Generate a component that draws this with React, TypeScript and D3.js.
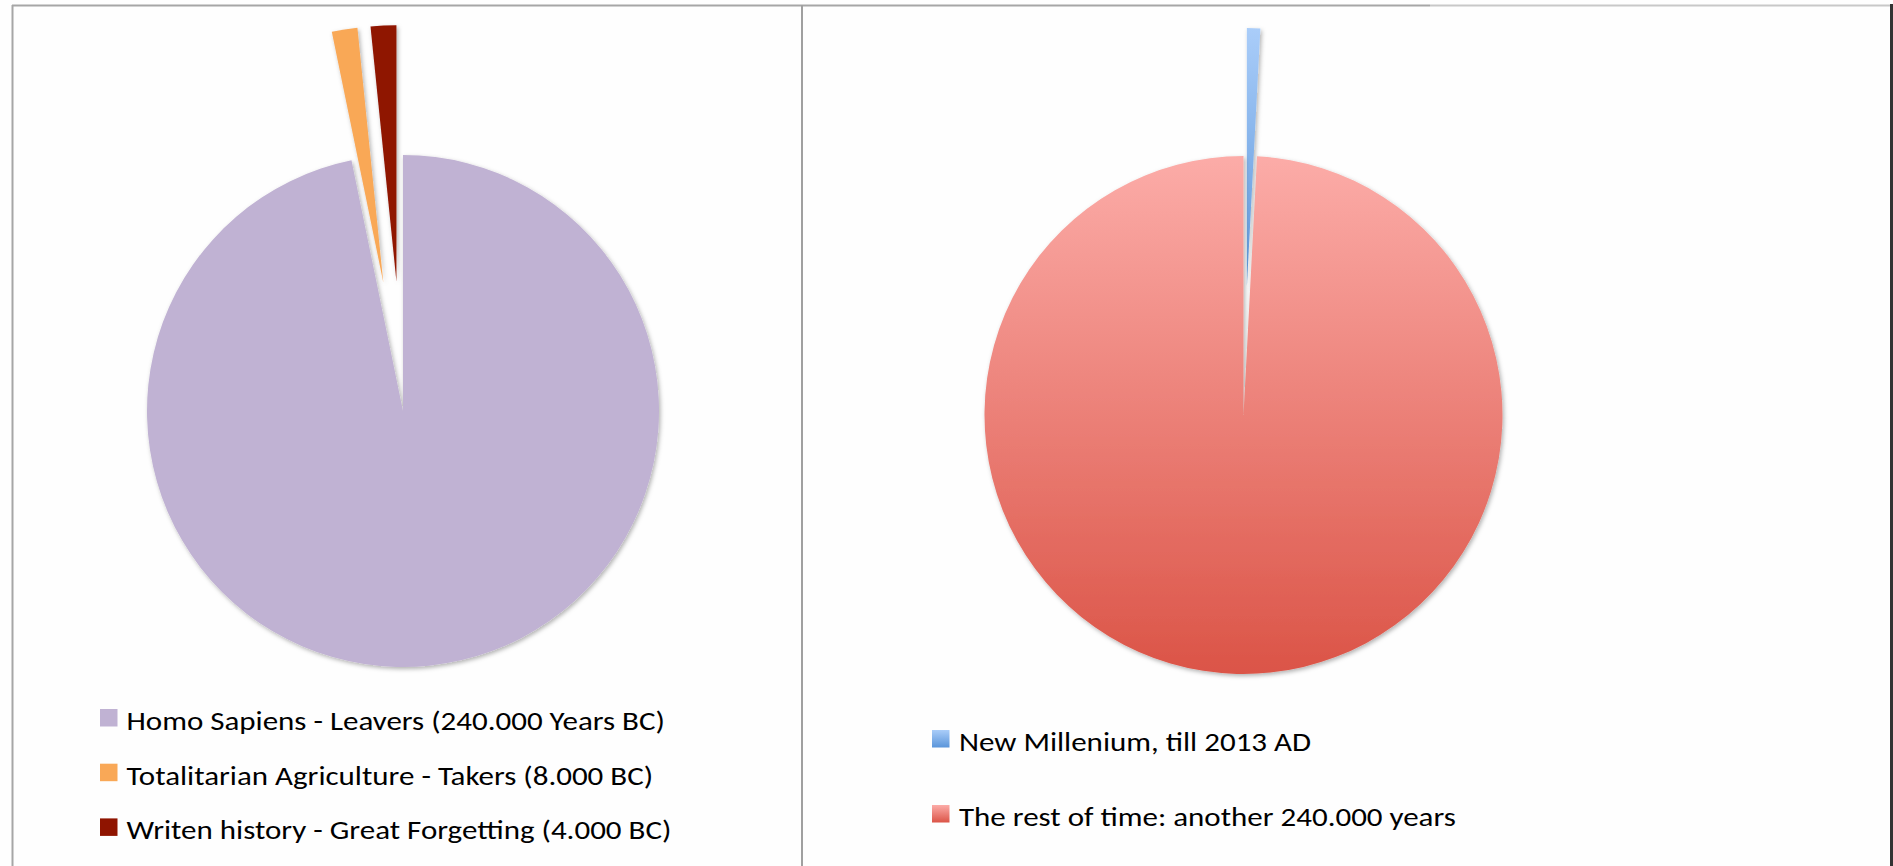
import React from 'react';
import * as d3 from 'd3';

// ---- data ----
const leftLabels = [
  'Homo Sapiens - Leavers (240.000 Years BC)',
  'Totalitarian Agriculture - Takers (8.000 BC)',
  'Writen history - Great Forgetting (4.000 BC)',
];
const leftValues = [240000, 4000, 4000];
const leftColors = ['#C0B2D3', '#F9A857', '#8F1400'];
const leftExploded = [false, true, true];

const rightLabels = ['New Millenium, till 2013 AD', 'The rest of time: another 240.000 years'];
const rightValues = [2013, 240000];
const rightGradients = [
  ['#AACDF9', '#5A95DA'],
  ['#FCACA8', '#DB5447'],
];
const rightExploded = [true, false];

const W = 1893;
const H = 866;
const FONT = 'Calibri, Carlito, Lato, sans-serif';
const FONT_SIZE = 27;
const STRETCH = 1.148;

type PieProps = {
  cx: number;
  cy: number;
  r: number;
  values: number[];
  fills: string[];
  exploded: boolean[];
  explode: number;
};

function Pie({ cx, cy, r, values, fills, exploded, explode }: PieProps) {
  const arcs = d3.pie<number>().sort(null).startAngle(0).endAngle(2 * Math.PI)(values);
  const arcGen = d3.arc<d3.PieArcDatum<number>>().innerRadius(0).outerRadius(r);
  return (
    <g transform={`translate(${cx},${cy})`}>
      {arcs.map((a, i) => {
        const mid = (a.startAngle + a.endAngle) / 2;
        const d = exploded[i] ? explode : 0;
        const dx = Math.sin(mid) * d;
        const dy = -Math.cos(mid) * d;
        return (
          <path
            key={i}
            d={arcGen(a) || ''}
            transform={`translate(${dx},${dy})`}
            fill={fills[i]}
            filter="url(#shadow)"
          />
        );
      })}
    </g>
  );
}

function LegendText({ x, y, label }: { x: number; y: number; label: string }) {
  return (
    <text
      transform={`translate(${x},${y}) scale(${STRETCH},1)`}
      fontSize={FONT_SIZE}
      fill="#000"
    >
      {label}
    </text>
  );
}

export default function App() {
  const lcx = 403, lcy = 411, lr = 256;
  const rcx = 1243.5, rcy = 415, rr = 259;
  return (
    <svg
      width={W}
      height={H}
      style={{ position: 'absolute', left: 0, top: 0, background: '#FEFEFE' }}
      fontFamily={FONT}
    >
      <defs>
        <filter id="shadow" x="-50%" y="-50%" width="200%" height="200%">
          <feDropShadow dx="1.5" dy="2" stdDeviation="2" floodColor="#000" floodOpacity="0.3" />
        </filter>
        {rightGradients.map((g, i) => (
          <linearGradient key={i} id={`rg${i}`} x1="0" y1="0" x2="0" y2="1">
            <stop offset="0" stopColor={g[0]} />
            <stop offset="1" stopColor={g[1]} />
          </linearGradient>
        ))}
      </defs>

      {/* frames */}
      <line x1={12} y1={5.5} x2={1430} y2={5.5} stroke="#A6A6A6" strokeWidth={2} />
      <line x1={1430} y1={5.5} x2={1891} y2={5.5} stroke="#C8C8C8" strokeWidth={2} />
      <line x1={12.5} y1={5} x2={12.5} y2={H} stroke="#A6A6A6" strokeWidth={2} />
      <line x1={802} y1={5} x2={802} y2={H} stroke="#A0A0A0" strokeWidth={2} />
      <line x1={1891.5} y1={4} x2={1891.5} y2={H} stroke="#333" strokeWidth={3} />

      <Pie
        cx={lcx}
        cy={lcy}
        r={lr}
        values={leftValues}
        fills={leftColors}
        exploded={leftExploded}
        explode={130}
      />
      <Pie
        cx={rcx}
        cy={rcy}
        r={rr}
        values={rightValues}
        fills={rightValues.map((_, i) => `url(#rg${i})`)}
        exploded={rightExploded}
        explode={128}
      />

      {/* left legend */}
      {leftLabels.map((lab, i) => (
        <g key={i} transform={`translate(100,${709 + i * 54.7})`}>
          <rect x={0} y={0} width={17.5} height={17.5} fill={leftColors[i]} />
          <LegendText x={26.5} y={21} label={lab} />
        </g>
      ))}

      {/* right legend */}
      {rightLabels.map((lab, i) => (
        <g key={i} transform={`translate(932,${730 + i * 75})`}>
          <rect x={0} y={0} width={17.5} height={17.5} fill={`url(#rg${i})`} />
          <LegendText x={27} y={21} label={lab} />
        </g>
      ))}
    </svg>
  );
}
